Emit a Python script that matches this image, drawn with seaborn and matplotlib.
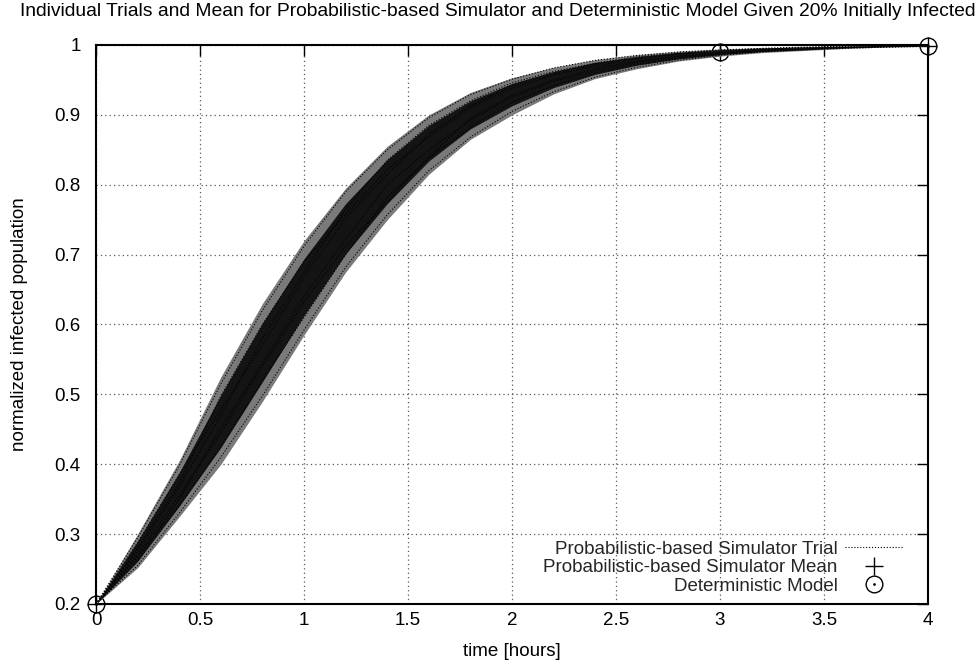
import matplotlib
matplotlib.use('Agg')
import matplotlib.pyplot as plt
from matplotlib.lines import Line2D
from matplotlib.path import Path
from matplotlib.ticker import FuncFormatter, MultipleLocator
import seaborn as sns
import pandas as pd
import numpy as np

# 시간축 (hours) 과 각 곡선의 값 - 그림에서 읽은 값
hours = [0.0, 0.2, 0.4, 0.6, 0.8, 1.0, 1.2, 1.4, 1.6, 1.8, 2.0,
         2.2, 2.4, 2.6, 2.8, 3.0, 3.2, 3.4, 3.6, 3.8, 4.0]

mean_infected = [0.200, 0.274, 0.362, 0.460, 0.560, 0.655, 0.739, 0.808, 0.862, 0.903, 0.932,
                 0.953, 0.968, 0.978, 0.985, 0.990, 0.993, 0.995, 0.997, 0.998, 0.999]

# 시행 곡선들이 퍼져 있는 범위 (바깥 / 진한 안쪽)
band_upper = [0.200, 0.300, 0.405, 0.525, 0.630, 0.720, 0.795, 0.855, 0.900, 0.932, 0.953,
              0.968, 0.979, 0.986, 0.991, 0.994, 0.996, 0.997, 0.998, 0.999, 1.000]
band_lower = [0.200, 0.252, 0.325, 0.400, 0.490, 0.585, 0.675, 0.750, 0.815, 0.865, 0.900,
              0.930, 0.952, 0.966, 0.977, 0.984, 0.989, 0.992, 0.995, 0.997, 0.998]
core_upper = [0.200, 0.290, 0.388, 0.499, 0.602, 0.694, 0.773, 0.836, 0.885, 0.920, 0.945,
              0.962, 0.975, 0.983, 0.989, 0.992, 0.995, 0.996, 0.9975, 0.9985, 0.9995]
core_lower = [0.200, 0.261, 0.340, 0.424, 0.518, 0.613, 0.701, 0.773, 0.834, 0.880, 0.913,
              0.939, 0.958, 0.971, 0.980, 0.986, 0.9905, 0.993, 0.996, 0.9975, 0.9985]

# 개별 시행 몇 개
trial_a = [0.200, 0.295, 0.398, 0.515, 0.620, 0.712, 0.790, 0.850, 0.896, 0.929, 0.951,
           0.967, 0.978, 0.985, 0.990, 0.993, 0.995, 0.997, 0.998, 0.999, 1.000]
trial_b = [0.200, 0.255, 0.330, 0.410, 0.498, 0.592, 0.682, 0.757, 0.820, 0.868, 0.905,
           0.933, 0.954, 0.968, 0.978, 0.985, 0.990, 0.993, 0.995, 0.997, 0.998]
trial_c = [0.200, 0.288, 0.385, 0.478, 0.570, 0.668, 0.752, 0.815, 0.872, 0.913, 0.942,
           0.960, 0.973, 0.982, 0.988, 0.992, 0.994, 0.996, 0.997, 0.998, 0.999]
trial_d = [0.200, 0.262, 0.350, 0.452, 0.545, 0.640, 0.722, 0.800, 0.850, 0.892, 0.925,
           0.948, 0.963, 0.975, 0.983, 0.988, 0.992, 0.994, 0.996, 0.998, 0.999]
trial_e = [0.200, 0.280, 0.372, 0.498, 0.600, 0.690, 0.758, 0.822, 0.868, 0.910, 0.938,
           0.957, 0.970, 0.980, 0.987, 0.991, 0.994, 0.996, 0.997, 0.998, 0.999]
trial_f = [0.200, 0.268, 0.340, 0.425, 0.520, 0.610, 0.700, 0.782, 0.838, 0.882, 0.918,
           0.942, 0.960, 0.972, 0.981, 0.987, 0.991, 0.994, 0.996, 0.997, 0.998]
trial_g = [0.200, 0.276, 0.368, 0.470, 0.580, 0.675, 0.765, 0.835, 0.885, 0.920, 0.946,
           0.962, 0.974, 0.983, 0.988, 0.992, 0.995, 0.996, 0.998, 0.999, 0.999]
trial_h = [0.200, 0.270, 0.355, 0.445, 0.540, 0.632, 0.712, 0.775, 0.840, 0.895, 0.928,
           0.950, 0.966, 0.977, 0.984, 0.989, 0.992, 0.995, 0.996, 0.998, 0.999]

model_hours = [0, 1, 2, 3, 4]
model_infected = [0.200, 0.649, 0.932, 0.990, 0.999]

title = ('Individual Trials and Mean for Probabilistic-based Simulator and '
         'Deterministic Model Given 20% Initially Infected')

sns.set_theme(style='white')
plt.rcParams['font.family'] = ['Liberation Sans', 'DejaVu Sans']

trials = [trial_a, trial_b, trial_c, trial_d, trial_e, trial_f, trial_g, trial_h]
df = pd.DataFrame({
    'hours': hours * len(trials),
    'infected': sum(trials, []),
    'trial': np.repeat(np.arange(len(trials)), len(hours)),
})

fs = 13.5
fig = plt.figure(figsize=(9.78, 6.64), dpi=100)
ax = fig.add_axes([0.0982, 0.0904, 0.8507, 0.8419])

ax.grid(True, color='0.35', linestyle=(0, (1, 2.5)), linewidth=0.9)
ax.set_axisbelow(True)

# 마커를 먼저 그려서 1, 2 시간 지점의 마커가 띠 밑에 가려지게
ax.plot(hours, mean_infected, linestyle='none', marker='+', ms=13, mew=1,
        color='black', markevery=5, clip_on=False, zorder=1.5)
circle_dot = Path.make_compound_path(Path.unit_circle(), Path.circle((0, 0), 0.08))
ax.plot(model_hours, model_infected, linestyle='none', marker=circle_dot, ms=12,
        mfc='none', mec='black', mew=1, clip_on=False, zorder=1.6)

ax.fill_between(hours, band_lower, band_upper, color='#7a7a7a', lw=0, zorder=2)
ax.fill_between(hours, core_lower, core_upper, color='#141414', lw=0, zorder=2.1)

sns.lineplot(data=df, x='hours', y='infected', units='trial', estimator=None,
             color='black', lw=0.8, linestyle=':', legend=False, ax=ax, zorder=2.2)

ax.set_xlim(0, 4)
ax.set_ylim(0.2, 1)
ax.xaxis.set_major_locator(MultipleLocator(0.5))
ax.yaxis.set_major_locator(MultipleLocator(0.1))
fmt = FuncFormatter(lambda v, p: '%g' % round(v, 2))
ax.xaxis.set_major_formatter(fmt)
ax.yaxis.set_major_formatter(fmt)
ax.tick_params(direction='in', length=8, width=1, top=True, right=True,
               labelsize=fs, colors='black')
ax.tick_params(axis='x', pad=6)
ax.tick_params(axis='y', pad=11)
for s in ax.spines.values():
    s.set_color('black')
    s.set_linewidth(1.5)

ax.set_xlabel('time [hours]', fontsize=fs, color='black', labelpad=10)
ax.set_ylabel('normalized infected population', fontsize=fs, color='black', labelpad=19)
fig.text(0.509, 0.982, title, ha='center', va='center', fontsize=13.9, color='black')

handles = [
    Line2D([], [], color='black', lw=0.8, linestyle=':'),
    Line2D([], [], linestyle='none', marker='+', ms=13, mew=1, color='black'),
    Line2D([], [], linestyle='none', marker=circle_dot, ms=12, mfc='none',
           mec='black', mew=1),
]
labels = ['Probabilistic-based Simulator Trial',
          'Probabilistic-based Simulator Mean',
          'Deterministic Model']
ax.legend(handles, labels, loc='lower right', bbox_to_anchor=(0.979, 0.003),
          frameon=False, markerfirst=False, handlelength=3.1, fontsize=fs,
          labelspacing=0.08, borderaxespad=0, handletextpad=0.4)

fig.savefig('out.png', dpi=100)
